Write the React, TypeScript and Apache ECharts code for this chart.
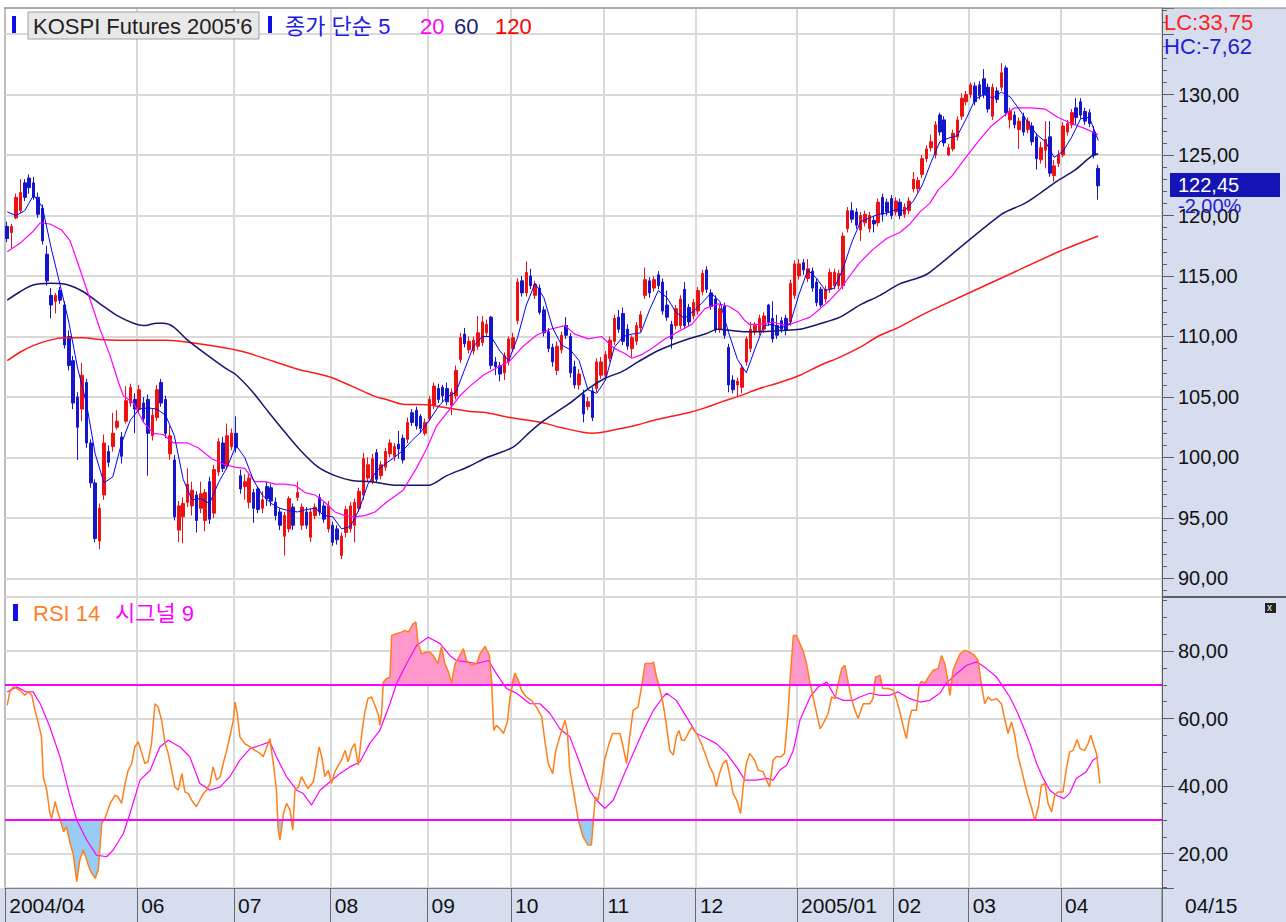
import React, { useEffect, useRef } from "react";
import * as echarts from "echarts";

const SLOTS = 263;
const monthStarts = [0, 30, 52, 74, 96, 115, 136, 157, 180, 202, 219, 240];
const monthLabels = ["2004/04", "06", "07", "08", "09", "10", "11", "12", "2005/01", "02", "03", "04"];
const lastDateLabel = "04/15";
const titleText = "KOSPI Futures 2005'6";
const lcText = "LC:33,75";
const hcText = "HC:-7,62";
const lastCloseText = "122,45";
const lastChangeText = "-2,00%";
const rsiUpper = 70;
const rsiLower = 30;
const priceLabelMax = 130; // labels above this are hidden behind the LC/HC texts

// [open, high, low, close] per trading day
const candles = [
  [119.1, 119.5, 117.8, 118.1], [118.6, 119.3, 117.3, 119.1], [119.8, 121.8, 119.7, 121.5], [120.4, 123.0, 120.2, 121.9],
  [122.7, 123.0, 121.2, 121.5], [123.1, 123.4, 121.8, 122.3], [122.7, 123.2, 121.3, 121.5], [121.5, 121.9, 119.8, 120.1],
  [120.6, 120.9, 117.6, 117.9], [116.8, 117.5, 114.2, 114.6], [113.4, 114.0, 111.5, 112.6], [112.9, 113.6, 111.9, 113.4],
  [113.8, 114.1, 112.7, 113.0], [112.6, 112.9, 109.0, 109.3], [110.0, 110.5, 107.2, 107.6], [108.0, 108.4, 104.0, 104.5],
  [105.0, 105.4, 99.8, 102.5], [104.0, 107.8, 103.0, 106.8], [106.2, 106.5, 100.8, 101.2], [101.2, 101.5, 97.5, 97.9],
  [97.9, 98.2, 93.0, 93.3], [93.1, 96.2, 92.4, 95.8], [96.9, 101.9, 96.5, 101.2], [100.5, 101.0, 99.2, 99.6],
  [100.9, 103.7, 100.5, 102.0], [102.5, 103.9, 102.3, 103.0], [101.7, 102.1, 99.5, 100.1], [103.0, 105.9, 102.8, 104.7],
  [104.5, 106.1, 104.2, 105.8], [104.8, 105.3, 102.0, 104.0], [104.0, 106.0, 103.6, 105.6], [104.5, 105.0, 102.9, 103.2],
  [104.8, 105.2, 98.5, 102.0], [101.8, 104.0, 101.4, 103.5], [103.3, 106.0, 103.0, 105.6], [106.2, 106.5, 104.2, 104.5],
  [104.8, 105.1, 101.6, 102.0], [100.3, 102.6, 99.8, 101.8], [99.8, 100.2, 94.8, 95.1], [94.0, 96.4, 93.0, 96.0],
  [95.1, 96.7, 92.9, 96.2], [96.3, 99.1, 95.9, 97.8], [96.0, 98.0, 95.2, 97.3], [96.9, 97.2, 93.8, 94.8],
  [95.8, 98.0, 95.4, 97.0], [94.8, 97.4, 93.9, 97.1], [98.0, 98.4, 94.5, 94.9], [95.4, 99.4, 95.0, 99.0],
  [98.8, 101.6, 98.5, 101.3], [101.2, 101.7, 98.8, 99.1], [99.3, 102.8, 99.0, 101.8], [100.9, 102.4, 100.6, 102.0],
  [102.0, 103.4, 100.4, 100.8], [98.5, 99.0, 97.0, 97.4], [97.6, 98.6, 96.5, 98.0], [96.3, 98.6, 95.8, 98.3],
  [97.1, 97.4, 94.6, 95.8], [97.4, 97.6, 95.4, 95.7], [95.8, 97.2, 95.4, 96.5], [97.6, 98.0, 96.0, 96.6],
  [97.5, 97.8, 96.0, 96.4], [96.3, 96.7, 94.8, 95.2], [95.5, 95.8, 94.0, 94.4], [93.5, 95.5, 91.9, 95.2],
  [94.1, 96.8, 93.8, 96.6], [95.9, 96.2, 94.0, 94.4], [96.7, 98.0, 96.4, 97.1], [94.4, 96.2, 94.0, 95.9],
  [95.5, 95.9, 94.1, 94.4], [93.4, 95.8, 93.0, 95.5], [95.2, 96.2, 94.9, 95.9], [96.7, 97.0, 95.2, 95.5],
  [96.0, 96.3, 94.6, 94.9], [94.1, 96.4, 93.8, 96.0], [94.4, 94.7, 92.7, 93.0], [94.1, 94.4, 92.8, 93.2],
  [91.9, 93.8, 91.6, 93.5], [93.8, 96.0, 93.4, 95.7], [94.1, 96.3, 93.8, 96.0], [94.4, 96.6, 93.0, 96.3],
  [95.8, 97.5, 95.5, 97.2], [96.9, 100.4, 96.5, 99.9], [98.3, 100.0, 98.0, 99.4], [98.0, 100.3, 97.8, 99.9],
  [100.4, 100.7, 97.9, 98.2], [98.5, 99.7, 98.2, 99.4], [99.2, 100.8, 98.9, 100.5], [100.3, 101.5, 100.0, 101.2],
  [100.1, 101.2, 99.7, 100.9], [101.1, 102.2, 99.9, 100.7], [101.6, 101.9, 99.5, 99.8], [101.5, 103.3, 101.2, 102.9],
  [103.7, 104.0, 102.6, 102.9], [103.9, 104.2, 102.3, 102.6], [103.4, 103.6, 102.0, 102.4], [102.0, 103.2, 101.8, 102.9],
  [103.2, 105.1, 103.0, 104.8], [104.3, 106.2, 104.0, 105.9], [105.7, 106.1, 104.5, 104.8], [105.8, 106.0, 104.6, 105.1],
  [105.7, 106.2, 104.3, 104.6], [104.3, 105.7, 103.5, 105.4], [105.1, 107.6, 104.8, 107.2], [108.1, 110.3, 107.8, 109.9],
  [110.2, 110.7, 109.1, 109.4], [108.9, 110.0, 108.6, 109.6], [108.8, 110.0, 108.5, 109.7], [109.2, 111.7, 108.9, 110.3],
  [109.5, 111.7, 109.2, 111.2], [110.3, 111.4, 110.0, 111.0], [111.6, 111.7, 107.3, 107.6], [107.9, 108.3, 106.8, 107.5],
  [107.6, 107.9, 106.3, 106.9], [107.0, 108.7, 106.4, 108.4], [107.9, 110.0, 107.6, 109.8], [109.0, 110.3, 108.7, 109.9],
  [111.3, 114.8, 111.0, 114.5], [114.6, 115.0, 113.3, 113.6], [113.6, 116.2, 113.3, 115.3], [115.0, 115.6, 113.9, 114.2],
  [113.4, 114.6, 113.1, 114.3], [114.0, 114.3, 111.8, 112.0], [112.2, 112.5, 110.0, 110.3], [110.4, 110.7, 108.7, 109.0],
  [109.1, 109.4, 107.5, 107.9], [107.2, 109.6, 106.8, 109.2], [108.9, 110.4, 108.6, 110.1], [110.9, 111.6, 109.8, 110.1],
  [110.0, 110.3, 106.6, 107.0], [107.5, 108.0, 105.7, 106.0], [106.0, 107.3, 105.6, 106.9], [105.2, 105.6, 102.9, 103.6],
  [104.2, 105.0, 103.9, 104.6], [105.5, 105.8, 103.0, 103.3], [105.7, 108.2, 105.4, 107.9], [106.8, 108.3, 106.5, 107.9],
  [106.8, 108.8, 106.5, 108.5], [108.2, 110.0, 107.9, 109.7], [109.6, 111.8, 109.3, 111.5], [111.6, 112.2, 110.3, 110.6],
  [111.9, 112.4, 109.3, 109.6], [110.6, 111.0, 108.9, 109.2], [109.0, 110.1, 108.3, 109.9], [109.6, 111.2, 109.3, 110.9],
  [110.7, 112.1, 110.4, 111.8], [113.4, 115.7, 113.1, 114.7], [114.6, 114.9, 113.2, 113.6], [114.0, 115.0, 113.7, 114.7],
  [115.1, 115.4, 113.9, 114.2], [114.5, 114.8, 111.8, 112.1], [112.6, 113.8, 111.3, 111.6], [111.0, 111.3, 109.0, 109.8],
  [110.9, 112.6, 110.6, 112.3], [110.9, 113.4, 110.6, 113.1], [113.9, 114.5, 110.6, 110.9], [112.4, 112.7, 110.9, 111.2],
  [111.7, 113.1, 111.4, 112.8], [112.1, 114.1, 111.8, 113.8], [113.7, 115.5, 113.4, 115.2], [115.5, 115.8, 113.6, 113.9],
  [113.6, 113.9, 112.2, 112.5], [113.1, 113.4, 110.3, 110.6], [110.6, 112.6, 110.3, 112.3], [112.5, 112.8, 109.8, 110.1],
  [109.1, 109.4, 105.4, 106.0], [106.4, 106.8, 105.3, 105.6], [106.0, 106.6, 105.0, 106.3], [105.8, 107.7, 105.3, 107.4],
  [107.9, 110.0, 107.6, 109.8], [109.0, 111.2, 108.7, 110.6], [110.4, 111.2, 110.1, 110.9], [110.4, 111.8, 110.1, 111.5],
  [110.6, 112.0, 110.3, 111.7], [112.6, 112.7, 110.9, 111.2], [111.5, 112.9, 109.5, 109.8], [110.9, 111.8, 109.8, 110.1],
  [111.3, 111.6, 110.3, 110.6], [111.5, 111.8, 110.1, 110.5], [111.2, 114.7, 110.9, 114.4], [113.4, 116.3, 113.1, 116.0],
  [115.0, 116.4, 114.7, 116.0], [116.1, 116.4, 115.1, 115.5], [114.8, 116.4, 114.5, 115.6], [115.4, 115.7, 113.7, 114.0],
  [114.5, 114.8, 112.5, 112.8], [113.9, 114.1, 112.4, 112.6], [113.1, 114.2, 112.8, 113.9], [113.9, 115.6, 113.6, 115.3],
  [114.2, 115.6, 113.9, 115.3], [114.2, 115.5, 113.9, 115.2], [114.2, 118.6, 113.9, 118.3], [118.9, 120.7, 118.6, 120.4],
  [120.4, 121.1, 119.4, 119.7], [120.3, 120.6, 118.9, 119.2], [118.8, 120.3, 117.9, 120.0], [119.4, 120.4, 119.1, 120.1],
  [118.9, 120.3, 118.6, 120.0], [119.6, 119.9, 118.6, 119.3], [119.4, 121.4, 119.1, 121.1], [121.5, 121.8, 119.5, 120.1],
  [121.1, 121.4, 120.0, 120.3], [121.4, 121.7, 119.7, 120.0], [120.3, 121.5, 120.0, 121.2], [121.1, 121.4, 119.7, 120.0],
  [120.1, 121.0, 119.8, 120.7], [120.4, 121.5, 120.1, 121.2], [122.2, 123.6, 121.9, 123.0], [122.2, 123.2, 121.9, 122.9],
  [123.4, 125.0, 123.1, 124.7], [124.7, 125.8, 124.4, 125.5], [125.6, 126.7, 125.3, 126.1], [125.0, 127.8, 124.7, 127.5],
  [128.3, 128.5, 126.6, 126.9], [127.9, 128.2, 125.7, 126.0], [125.0, 125.9, 124.9, 125.6], [125.5, 127.1, 125.3, 126.8],
  [126.5, 128.2, 126.2, 127.9], [128.2, 130.1, 127.9, 129.7], [129.4, 130.3, 129.1, 130.0], [130.0, 131.0, 129.7, 130.8],
  [130.7, 131.0, 129.1, 129.4], [130.8, 131.1, 129.6, 129.9], [131.3, 132.1, 129.7, 130.0], [130.6, 130.9, 128.5, 128.8],
  [128.2, 130.9, 127.9, 130.6], [130.3, 130.6, 129.3, 129.6], [130.6, 132.6, 130.3, 131.8], [132.2, 132.4, 128.2, 128.5],
  [127.9, 128.9, 127.2, 128.6], [128.3, 128.6, 127.2, 127.5], [127.1, 128.1, 125.5, 127.8], [128.2, 128.5, 126.6, 126.9],
  [127.1, 128.1, 126.8, 127.8], [127.4, 127.7, 125.8, 126.1], [126.5, 126.8, 123.8, 124.7], [124.6, 126.1, 124.3, 125.6],
  [125.4, 127.8, 123.9, 126.3], [126.5, 127.8, 123.2, 123.5], [123.3, 124.6, 122.8, 124.1], [124.3, 125.4, 124.0, 125.0],
  [125.0, 127.7, 124.8, 127.4], [126.9, 127.9, 126.6, 127.6], [127.5, 128.8, 127.2, 128.5], [128.9, 129.7, 127.5, 128.1],
  [129.4, 129.7, 128.0, 128.3], [128.6, 128.9, 127.5, 127.8], [128.5, 128.8, 127.3, 127.6], [126.9, 127.4, 124.7, 125.0],
  [123.9, 124.2, 121.3, 122.45],
];

// moving averages: [day index, value]
const ma5 = [
  [0, 120.3], [2, 120.0], [4, 120.4], [6, 121.7], [8, 120.7], [10, 117.3], [12, 114.3], [14, 111.2], [16, 107.4], [18, 104.5],
  [20, 100.3], [22, 97.9], [24, 98.4], [26, 101.2], [28, 103.1], [30, 104.0], [32, 104.1], [34, 104.0], [36, 103.5], [38, 101.8],
  [40, 98.2], [42, 96.5], [44, 96.6], [46, 96.2], [48, 97.9], [50, 99.2], [52, 101.0], [54, 100.0], [56, 98.1], [58, 96.9],
  [60, 96.2], [62, 95.8], [64, 95.6], [66, 95.5], [68, 95.7], [70, 95.8], [72, 95.2], [74, 95.1], [76, 94.1], [78, 94.3],
  [80, 95.7], [82, 97.8], [84, 98.9], [86, 99.5], [88, 100.0], [90, 100.6], [92, 101.4], [94, 102.1], [96, 103.1], [98, 104.2],
  [100, 105.0], [102, 105.4], [104, 107.3], [106, 109.2], [108, 110.0], [110, 110.0], [112, 108.8], [114, 108.0], [116, 109.9], [118, 112.6],
  [120, 114.4], [122, 113.2], [124, 110.7], [126, 109.3], [128, 108.9], [130, 108.0], [132, 105.6], [134, 105.3], [136, 106.4], [138, 109.1],
  [140, 110.0], [142, 110.2], [144, 110.3], [146, 112.2], [148, 113.8], [150, 113.2], [152, 112.0], [154, 111.5], [156, 112.1], [158, 112.8],
  [160, 113.6], [162, 112.9], [164, 110.3], [166, 108.1], [168, 107.0], [170, 109.0], [172, 110.9], [174, 111.0], [176, 110.7], [178, 111.1],
  [180, 113.5], [182, 115.5], [184, 114.8], [186, 113.8], [188, 114.0], [190, 115.6], [192, 117.8], [194, 119.5], [196, 119.8], [198, 120.1],
  [200, 120.2], [202, 120.5], [204, 120.4], [206, 121.2], [208, 122.5], [210, 124.4], [212, 126.1], [214, 126.4], [216, 126.6], [218, 128.0],
  [220, 129.6], [222, 130.0], [224, 129.7], [226, 130.2], [228, 129.8], [230, 128.8], [232, 127.7], [234, 126.7], [236, 126.1], [238, 124.8],
  [240, 125.3], [242, 126.5], [244, 128.0], [246, 128.1], [248, 126.2],
];
const ma20 = [
  [0, 117.0], [2.9, 117.7], [5.9, 118.7], [7.5, 119.4], [9.7, 119.3], [12.4, 118.8], [14.3, 117.9], [16.5, 115.6], [18.8, 113.1],
  [21.1, 110.6], [23.4, 108.4], [25.3, 106.2], [26.4, 105.1], [28.7, 104.5], [31.0, 102.9], [33.2, 102.0], [35.5, 101.9], [37.8, 101.2],
  [41.0, 101.2], [43.4, 100.8], [46.5, 99.9], [49.5, 99.4], [51.8, 99.2], [54.0, 99.1], [56.3, 98.0], [58.6, 98.0], [61.0, 97.8],
  [63.1, 97.8], [65.4, 97.7], [67.7, 97.1], [70.0, 96.9], [72.2, 96.3], [74.5, 95.5], [76.8, 95.2], [79.0, 95.1], [81.3, 95.2],
  [83.6, 95.5], [86.2, 96.3], [90.0, 97.3], [93.0, 99.1], [95.3, 100.7], [97.6, 102.6], [100.6, 104.0], [102.9, 105.1], [105.2, 105.9],
  [108.2, 106.8], [111.2, 107.4], [114.3, 108.0], [117.3, 109.2], [120.3, 110.1], [123.4, 110.6], [126.8, 110.9], [129.0, 110.2],
  [132.1, 109.8], [135.1, 110.0], [138.1, 109.0], [140.4, 108.6], [142.0, 108.2], [144.2, 108.5], [146.5, 109.0], [149.5, 109.8],
  [152.5, 110.4], [155.6, 111.0], [158.6, 112.3], [161.6, 112.7], [164.0, 112.5], [166.2, 112.0], [167.7, 111.3], [168.8, 111.0],
  [171.0, 111.0], [174.0, 111.2], [177.1, 110.9], [180.2, 111.3], [182.5, 111.6], [184.8, 112.3], [187.0, 113.0], [189.3, 113.9],
  [191.5, 115.0], [193.8, 116.1], [196.8, 117.2], [199.9, 118.1], [202.9, 118.6], [205.2, 119.3], [207.5, 120.3], [209.7, 121.0],
  [211.6, 122.1], [214.6, 123.2], [217.7, 124.7], [220.7, 126.1], [223.7, 127.4], [226.8, 128.3], [229.0, 128.9], [232.8, 128.9],
  [235.9, 128.8], [238.9, 128.1], [241.9, 127.6], [244.9, 127.2], [248.0, 126.7],
];
const ma60 = [
  [0, 113.0], [2.9, 113.7], [5.9, 114.25], [9.7, 114.4], [13.5, 114.3], [17.3, 113.7], [21.1, 112.7], [24.9, 111.75], [28.7, 111.1],
  [31.0, 110.9], [34.0, 111.1], [35.5, 111.1], [37.8, 110.8], [41.0, 109.7], [49.5, 107.4], [51.8, 106.9], [55.6, 105.5], [59.3, 103.8],
  [63.1, 102.1], [66.9, 100.5], [70.7, 99.2], [74.5, 98.5], [78.3, 98.1], [82.8, 98.0], [88.5, 97.7], [95.7, 97.7], [99.9, 98.5],
  [105.2, 99.3], [109.0, 100.0], [115.0, 100.85], [118.8, 102.1], [121.8, 103.0], [125.0, 103.8], [128.3, 104.6], [132.1, 105.7],
  [135.9, 106.55], [139.7, 107.1], [143.4, 107.9], [147.2, 108.7], [151.0, 109.3], [154.8, 109.8], [158.6, 110.2], [161.6, 110.6],
  [164.6, 110.5], [167.7, 110.4], [171.0, 110.4], [175.6, 110.5], [180.2, 110.6], [184.7, 111.05], [189.3, 111.6], [193.8, 112.6],
  [198.4, 113.4], [202.9, 114.35], [207.5, 114.9], [209.7, 115.3], [226.0, 120.1], [231.3, 121.0], [235.0, 121.9], [238.9, 122.9],
  [242.7, 123.75], [246.5, 124.9], [248.0, 125.1],
];
const ma120 = [
  [0, 108.0], [2.9, 108.7], [5.9, 109.25], [9.7, 109.7], [12.8, 109.9], [17.3, 109.9], [21.1, 109.75], [24.9, 109.7], [28.7, 109.7],
  [32.5, 109.7], [36.2, 109.7], [41.5, 109.5], [53.0, 108.8], [66.1, 107.3], [73.0, 106.7], [78.3, 105.9], [83.6, 105.05],
  [86.2, 104.8], [90.0, 104.4], [95.7, 104.35], [99.1, 104.15], [105.2, 103.8], [109.0, 103.7], [114.3, 103.3], [118.8, 103.05],
  [122.6, 102.8], [125.6, 102.5], [133.0, 102.0], [139.6, 102.4], [143.4, 102.7], [147.2, 103.1], [151.0, 103.4], [154.8, 103.7],
  [158.6, 104.1], [162.4, 104.6], [166.2, 105.05], [171.0, 105.7], [175.6, 106.2], [180.2, 106.8], [184.7, 107.6], [189.3, 108.3],
  [193.8, 109.1], [198.4, 110.1], [202.9, 110.8], [207.5, 111.7], [209.7, 112.1], [227.0, 115.0], [239.0, 117.0], [248.0, 118.3],
];

// RSI 14 and its signal: [day index, value]
const rsi14 = [
  [0.0, 63.9], [0.6, 67.9], [1.4, 69.4], [2.2, 68.9], [2.9, 68.4], [4.0, 66.9], [4.8, 67.9], [5.6, 66.9], [6.3, 62.5], [7.1, 58.5],
  [7.8, 54.6], [8.2, 42.8], [9.0, 38.8], [9.7, 31.9], [10.1, 30.4], [10.9, 35.4], [11.6, 31.9], [12.0, 30.4], [12.8, 26.5], [13.5, 28.0],
  [14.3, 23.0], [15.0, 20.0], [15.8, 11.7], [16.5, 18.1], [17.3, 21.1], [18.1, 18.1], [18.8, 15.2], [20.0, 12.7], [20.7, 15.2], [21.5, 29.0],
  [22.2, 30.4], [23.4, 34.9], [24.5, 37.3], [25.2, 36.8], [26.0, 34.9], [26.8, 40.8], [27.5, 44.7], [28.3, 46.7], [29.0, 51.6], [29.8, 53.1],
  [30.6, 49.7], [31.3, 46.7], [32.0, 47.2], [32.8, 52.6], [33.6, 64.4], [34.3, 63.4], [35.1, 59.5], [35.9, 52.6], [36.6, 49.7], [37.4, 44.7],
  [38.1, 39.8], [38.9, 38.8], [39.7, 43.7], [40.4, 38.3], [41.2, 37.8], [41.9, 35.9], [43.0, 33.9], [43.8, 35.9], [44.6, 37.8], [45.3, 38.8],
  [46.1, 40.8], [46.8, 45.7], [47.6, 41.8], [48.4, 42.8], [49.1, 46.7], [49.9, 50.6], [50.6, 54.6], [51.4, 59.5], [51.8, 64.9], [52.3, 61.5],
  [52.9, 54.6], [54.0, 52.6], [55.2, 51.6], [56.3, 50.6], [57.5, 49.7], [58.2, 48.7], [59.0, 51.6], [59.7, 54.1], [60.5, 46.7], [61.2, 38.8],
  [61.6, 27.0], [62.0, 24.0], [62.8, 31.9], [63.5, 34.9], [64.3, 32.9], [64.9, 27.0], [65.4, 38.8], [66.2, 39.8], [66.9, 42.8], [67.7, 40.8],
  [68.4, 39.3], [69.6, 41.3], [70.3, 46.7], [70.9, 51.6], [71.5, 48.7], [72.2, 42.8], [73.0, 44.7], [73.7, 40.8], [74.5, 44.3], [75.3, 46.2],
  [76.0, 47.7], [76.8, 50.6], [77.5, 47.2], [78.3, 51.1], [79.0, 52.6], [79.8, 46.2], [80.6, 55.6], [81.3, 62.0], [82.0, 65.9], [82.8, 66.4],
  [83.6, 63.9], [84.4, 61.0], [84.7, 58.0], [85.1, 61.5], [85.5, 70.8], [86.2, 71.8], [87.0, 72.3], [87.4, 84.6], [88.5, 85.1], [89.6, 85.6],
  [90.4, 86.1], [91.2, 85.6], [92.3, 88.1], [92.9, 88.6], [93.4, 82.2], [94.2, 79.2], [95.3, 79.7], [96.1, 79.7], [96.8, 78.7], [97.9, 76.3],
  [98.7, 81.2], [99.5, 76.3], [100.3, 73.8], [101.0, 70.5], [101.8, 76.3], [102.9, 78.7], [103.7, 80.7], [104.4, 77.2], [105.6, 75.8], [106.7, 76.3],
  [107.5, 79.2], [108.6, 81.4], [109.6, 78.7], [110.1, 71.3], [110.6, 56.5], [111.2, 58.0], [112.0, 57.0], [112.8, 55.6], [113.7, 59.0], [114.3, 66.4],
  [115.4, 73.5], [116.2, 71.3], [116.9, 68.4], [118.0, 66.4], [119.2, 65.4], [120.3, 63.4], [121.5, 60.5], [122.3, 52.6], [123.0, 46.7], [124.0, 43.7],
  [124.7, 50.6], [125.6, 54.6], [126.8, 59.5], [127.3, 56.5], [127.9, 44.7], [128.7, 38.8], [129.8, 30.0], [130.9, 25.0], [132.0, 22.6], [132.8, 22.6],
  [133.3, 30.9], [133.7, 36.8], [134.3, 35.9], [135.0, 40.8], [135.8, 47.7], [136.8, 52.6], [137.6, 55.6], [139.3, 55.6], [140.0, 51.6], [140.8, 46.7],
  [141.4, 53.6], [142.3, 62.5], [143.4, 63.4], [144.2, 69.4], [145.0, 76.3], [146.5, 76.3], [146.9, 76.8], [147.6, 72.3], [148.4, 68.4], [149.1, 64.4],
  [149.8, 58.5], [150.6, 50.6], [151.4, 49.2], [152.1, 54.6], [152.7, 56.5], [153.3, 53.6], [154.0, 53.6], [154.8, 55.6], [155.6, 57.5], [156.7, 55.6],
  [157.8, 52.6], [158.9, 48.7], [159.7, 45.7], [160.5, 43.7], [161.2, 39.8], [161.9, 43.7], [162.7, 46.7], [163.5, 47.7], [164.3, 42.8], [165.0, 37.8],
  [165.8, 35.9], [166.7, 31.9], [167.3, 39.8], [168.0, 46.7], [168.8, 49.7], [169.9, 47.7], [170.7, 44.7], [171.8, 44.3], [172.6, 41.8], [173.3, 39.8],
  [174.1, 47.7], [174.8, 48.7], [175.9, 48.7], [176.7, 49.7], [177.5, 61.5], [177.9, 70.5], [178.7, 84.6], [179.4, 84.6], [180.2, 82.2], [181.0, 79.7],
  [181.7, 76.3], [182.5, 70.5], [183.2, 66.4], [184.0, 61.5], [184.8, 57.0], [185.5, 58.5], [186.6, 61.5], [187.4, 66.4], [188.2, 65.9], [188.9, 70.5],
  [189.7, 74.8], [190.4, 75.8], [191.2, 70.5], [191.9, 65.9], [192.7, 62.5], [193.4, 60.0], [194.6, 64.4], [196.1, 64.4], [196.8, 65.9], [197.4, 72.3],
  [198.4, 72.8], [199.0, 68.9], [200.3, 68.9], [201.4, 68.4], [202.2, 65.4], [203.0, 61.5], [203.7, 57.5], [204.4, 54.1], [205.0, 59.5], [205.6, 62.5],
  [206.7, 62.5], [207.3, 70.0], [207.8, 71.0], [208.6, 70.5], [209.4, 72.3], [210.5, 74.3], [211.6, 74.8], [212.4, 78.7], [213.1, 76.3], [213.7, 72.3],
  [214.3, 66.9], [215.0, 74.3], [215.8, 76.8], [216.6, 79.2], [217.7, 80.2], [218.8, 79.7], [219.9, 78.7], [220.7, 77.2], [221.4, 70.5], [222.2, 64.4],
  [223.0, 66.4], [223.7, 65.4], [224.9, 65.9], [226.0, 64.4], [226.8, 59.5], [227.5, 55.6], [228.3, 59.0], [229.1, 54.6], [229.8, 48.7], [230.6, 44.7],
  [231.3, 40.8], [232.1, 36.8], [232.8, 33.9], [233.6, 29.8], [234.4, 33.9], [235.1, 40.3], [235.9, 40.8], [236.6, 34.9], [237.4, 32.4], [238.1, 37.3],
  [238.9, 38.3], [240.0, 38.3], [240.7, 44.7], [241.5, 50.1], [242.3, 50.6], [243.2, 53.8], [243.9, 51.1], [244.9, 50.6], [245.7, 52.6], [246.3, 55.1],
  [247.0, 52.1], [247.6, 49.7], [248.4, 40.8],
];
const rsiSignal = [
  [0.0, 67.9], [2.1, 69.4], [4.4, 67.9], [5.9, 67.9], [7.5, 64.4], [9.7, 57.5], [12.0, 48.7], [14.3, 36.8], [15.8, 30.0], [18.1, 24.0],
  [20.3, 19.6], [22.6, 19.1], [24.1, 21.1], [26.4, 26.0], [27.9, 31.9], [30.2, 41.8], [32.5, 44.7], [34.7, 51.6], [36.6, 53.6], [39.3, 51.6],
  [41.5, 48.7], [43.8, 40.8], [46.1, 38.8], [48.4, 39.8], [50.6, 42.8], [52.9, 47.7], [55.2, 51.1], [57.5, 52.1], [59.7, 53.1], [61.2, 48.7],
  [63.5, 42.8], [65.8, 38.8], [67.3, 37.8], [69.2, 34.4], [71.1, 38.8], [73.4, 41.3], [75.6, 43.7], [77.9, 45.7], [80.2, 47.2], [82.4, 52.6],
  [84.7, 56.5], [87.0, 64.4], [88.5, 70.3], [90.8, 76.3], [93.1, 81.7], [95.7, 84.1], [98.4, 82.2], [100.6, 78.7], [102.1, 77.2], [104.4, 76.8],
  [106.7, 76.3], [109.4, 77.2], [111.2, 73.3], [113.5, 68.9], [115.8, 67.5], [118.8, 64.4], [121.1, 64.4], [123.4, 61.5], [125.6, 57.0], [127.9, 54.6],
  [130.2, 46.7], [132.4, 38.8], [133.9, 35.9], [135.9, 33.4], [137.8, 35.9], [140.0, 42.8], [142.3, 49.7], [144.6, 56.5], [146.9, 62.5], [149.1, 66.4],
  [149.9, 67.5], [152.1, 65.4], [154.4, 60.5], [156.7, 55.6], [159.0, 54.1], [161.2, 52.6], [163.5, 49.7], [165.8, 45.7], [167.7, 41.8], [170.3, 41.8],
  [172.6, 42.3], [174.1, 41.8], [175.6, 44.7], [177.2, 46.2], [178.7, 50.6], [180.2, 59.5], [182.5, 66.4], [184.4, 69.4], [186.3, 70.8], [188.2, 66.4],
  [190.1, 65.4], [192.3, 65.4], [193.8, 66.4], [196.1, 67.5], [198.4, 66.9], [200.6, 66.9], [202.5, 67.9], [205.2, 65.9], [207.5, 64.9], [209.7, 65.4],
  [212.0, 67.5], [213.5, 70.5], [215.8, 73.3], [218.1, 75.8], [220.4, 76.8], [222.6, 74.8], [224.9, 72.3], [226.4, 69.4], [227.9, 66.4], [229.4, 62.5],
  [231.0, 57.5], [232.5, 52.6], [234.0, 46.7], [235.5, 42.3], [237.0, 38.8], [238.5, 37.3], [240.2, 36.3], [241.5, 37.8], [243.0, 42.3], [245.3, 44.3],
  [246.8, 47.7], [248.0, 48.7],
];

const LATIN = "'Liberation Sans', Arial, 'Noto Sans CJK KR', sans-serif";
const AXIS_BG = "#d5ddee";
const GRID_LINE = "#d9d9d9";
const FRAME = "#7d7d7d";

const fmt2 = (v: number) => v.toFixed(2).replace(".", ",");
const isMonthLine = (i: number) => monthStarts.indexOf(i) > 0;
const isMonthTick = (i: number) => monthStarts.indexOf(i) >= 0;

function txt(x: number, y: number, text: string, fill: string, size = 22, extra: any = {}) {
  return {
    type: "text",
    x,
    y,
    z: 100,
    silent: true,
    style: {
      text,
      fill,
      font: `${size}px ${LATIN}`,
      verticalAlign: "middle",
      textVerticalAlign: "middle",
      align: "left",
      textAlign: "left",
      ...extra,
    },
  };
}

export default function App() {
  const ref = useRef<HTMLDivElement>(null);

  useEffect(() => {
    if (!ref.current) return;
    const chart = echarts.init(ref.current, null, { renderer: "svg" });
    const cats = Array.from({ length: SLOTS }, (_, i) => String(i));

    const option: any = {
      animation: false,
      backgroundColor: "#ffffff",
      grid: [
        { left: 5, top: 8, width: 1157, height: 589, show: true, borderColor: FRAME, borderWidth: 1 },
        { left: 5, top: 597, width: 1157, height: 291, show: true, borderColor: FRAME, borderWidth: 1 },
      ],
      xAxis: [
        {
          gridIndex: 0, type: "category", data: cats, boundaryGap: true,
          axisLine: { show: false, onZero: false }, axisTick: { show: false }, axisLabel: { show: false },
          splitLine: { show: true, interval: (i: number) => isMonthLine(i), lineStyle: { color: GRID_LINE, width: 2 } },
        },
        { gridIndex: 0, type: "value", min: -0.5, max: SLOTS - 0.5, show: false, axisLine: { onZero: false } },
        {
          gridIndex: 1, type: "category", data: cats, boundaryGap: true,
          axisLine: { show: true, onZero: false, lineStyle: { color: FRAME, width: 1 } },
          axisTick: { show: true, interval: (i: number) => isMonthTick(i), length: 34, lineStyle: { color: "#6a6a6a", width: 1 } },
          axisLabel: {
            show: true,
            interval: (i: number) => isMonthTick(i),
            formatter: (_v: string, i: number) => {
              const k = monthStarts.indexOf(i);
              return k >= 0 ? monthLabels[k] : "";
            },
            align: "left",
            padding: [0, 0, 0, 2],
            margin: 7,
            color: "#111111",
            fontSize: 21,
            fontFamily: LATIN,
          },
          splitLine: { show: true, interval: (i: number) => isMonthLine(i), lineStyle: { color: GRID_LINE, width: 2 } },
        },
        { gridIndex: 1, type: "value", min: -0.5, max: SLOTS - 0.5, show: false, axisLine: { onZero: false } },
      ],
      yAxis: [
        {
          gridIndex: 0, type: "value", position: "right", min: 88.47, max: 137.15, splitNumber: 10,
          axisLine: { show: true, onZero: false, lineStyle: { color: "#5e5e5e", width: 1 } },
          axisTick: { show: true, length: 12, lineStyle: { color: "#5e5e5e" } },
          minorTick: { show: true, splitNumber: 5, length: 5, lineStyle: { color: "#5e5e5e" } },
          axisLabel: {
            margin: 16, color: "#111111", fontSize: 20, fontFamily: LATIN,
            formatter: (v: number) => (v > priceLabelMax + 0.01 ? "" : fmt2(v)), showMinLabel: false, showMaxLabel: false,
          },
          splitLine: { show: true, lineStyle: { color: GRID_LINE, width: 2 } },
        },
        {
          gridIndex: 1, type: "value", position: "right", min: 9.85, max: 96, splitNumber: 5,
          axisLine: { show: true, onZero: false, lineStyle: { color: "#5e5e5e", width: 1 } },
          axisTick: { show: true, length: 12, lineStyle: { color: "#5e5e5e" } },
          minorTick: { show: true, splitNumber: 4, length: 5, lineStyle: { color: "#5e5e5e" } },
          axisLabel: {
            margin: 16, color: "#111111", fontSize: 20, fontFamily: LATIN,
            formatter: (v: number) => fmt2(v), showMinLabel: false, showMaxLabel: false,
          },
          splitLine: { show: true, lineStyle: { color: GRID_LINE, width: 2 } },
        },
      ],
      series: [
        {
          type: "candlestick", xAxisIndex: 0, yAxisIndex: 0, barWidth: 3, silent: true,
          data: candles.map(([o, h, l, c]) => [o, c, l, h]),
          itemStyle: { color: "#ee1111", color0: "#1515cc", borderColor: "#ee1111", borderColor0: "#1515cc", borderWidth: 1 },
        },
        { type: "line", xAxisIndex: 1, yAxisIndex: 0, data: ma120, symbol: "none", smooth: 0.3, silent: true, lineStyle: { color: "#ff1a1a", width: 1.5 } },
        { type: "line", xAxisIndex: 1, yAxisIndex: 0, data: ma60, symbol: "none", smooth: 0.3, silent: true, lineStyle: { color: "#16166e", width: 1.5 } },
        { type: "line", xAxisIndex: 1, yAxisIndex: 0, data: ma20, symbol: "none", silent: true, lineStyle: { color: "#ff00ff", width: 1.2 } },
        { type: "line", xAxisIndex: 1, yAxisIndex: 0, data: ma5, symbol: "none", silent: true, lineStyle: { color: "#0000ff", width: 1 } },
        {
          type: "line", xAxisIndex: 3, yAxisIndex: 1, symbol: "none", silent: true,
          data: rsi14.map(([x, v]) => [x, Math.max(v, rsiUpper)]),
          lineStyle: { opacity: 0, width: 0 },
          areaStyle: { color: "#ff99cc", opacity: 1, origin: rsiUpper },
        },
        {
          type: "line", xAxisIndex: 3, yAxisIndex: 1, symbol: "none", silent: true,
          data: rsi14.map(([x, v]) => [x, Math.min(v, rsiLower)]),
          lineStyle: { opacity: 0, width: 0 },
          areaStyle: { color: "#99ccf5", opacity: 1, origin: rsiLower },
        },
        {
          type: "line", xAxisIndex: 3, yAxisIndex: 1, data: rsiSignal, symbol: "none", silent: true,
          lineStyle: { color: "#ff00ff", width: 1.2 },
        },
        {
          type: "line", xAxisIndex: 3, yAxisIndex: 1, data: rsi14, symbol: "none", silent: true,
          lineStyle: { color: "#ff7f1a", width: 1.5 },
          markLine: {
            silent: true, symbol: "none", label: { show: false },
            lineStyle: { color: "#ff00ff", width: 2, type: "solid" },
            data: [{ yAxis: rsiUpper }, { yAxis: rsiLower }],
          },
        },
      ],
      graphic: [
        { type: "rect", z: -10, silent: true, shape: { x: 1162, y: 8, width: 124, height: 880 }, style: { fill: AXIS_BG } },
        { type: "rect", z: -10, silent: true, shape: { x: 0, y: 888, width: 1286, height: 34 }, style: { fill: AXIS_BG } },
        { type: "line", z: 50, silent: true, shape: { x1: 4, y1: 8, x2: 1286, y2: 8 }, style: { stroke: FRAME, lineWidth: 1 } },
        { type: "line", z: 50, silent: true, shape: { x1: 1162, y1: 597, x2: 1286, y2: 597 }, style: { stroke: "#5e5e5e", lineWidth: 2 } },
        { type: "line", z: 50, silent: true, shape: { x1: 1162, y1: 888, x2: 1162, y2: 922 }, style: { stroke: "#6a6a6a", lineWidth: 1 } },
        // price-panel legend
        { type: "rect", z: 100, silent: true, shape: { x: 12, y: 16, width: 4, height: 17 }, style: { fill: "#1010e0" } },
        { type: "rect", z: 99, silent: true, shape: { x: 28, y: 12, width: 231, height: 27 }, style: { fill: "#e8e8e8", stroke: "#a0a0a0", lineWidth: 1 } },
        txt(33, 26, titleText, "#222222", 22),
        { type: "rect", z: 100, silent: true, shape: { x: 268, y: 16, width: 4, height: 17 }, style: { fill: "#1010e0" } },
        txt(285, 26, "종가 단순 5", "#1c1ce6", 22),
        txt(420, 26, "20", "#ff00ff", 22),
        txt(454, 26, "60", "#22227a", 22),
        txt(495, 26, "120", "#ff0000", 22),
        // RSI legend
        { type: "rect", z: 100, silent: true, shape: { x: 13, y: 604, width: 5, height: 17 }, style: { fill: "#1010e0" } },
        txt(33, 613, "RSI 14", "#ff7f27", 22),
        txt(115, 613, "시그널 9", "#ff00ff", 22),
        // right column texts
        txt(1164, 22, lcText, "#ff2020", 22),
        txt(1164, 46, hcText, "#2020d0", 22),
        { type: "rect", z: 100, silent: true, shape: { x: 1170, y: 173, width: 110, height: 24 }, style: { fill: "#1515b5" } },
        txt(1178, 185, lastCloseText, "#ffffff", 20),
        txt(1178, 206, lastChangeText, "#2323d6", 20),
        { type: "rect", z: 100, silent: true, shape: { x: 1265, y: 603, width: 11, height: 10 }, style: { fill: "#222222" } },
        txt(1267, 607, "x", "#ffffff", 10),
        txt(1185, 905, lastDateLabel, "#111111", 21),
      ],
    };

    chart.setOption(option);
    return () => chart.dispose();
  }, []);

  return (
    <div
      ref={ref}
      style={{ position: "fixed", left: 0, top: 0, width: 1286, height: 922, background: "#ffffff" }}
    />
  );
}
